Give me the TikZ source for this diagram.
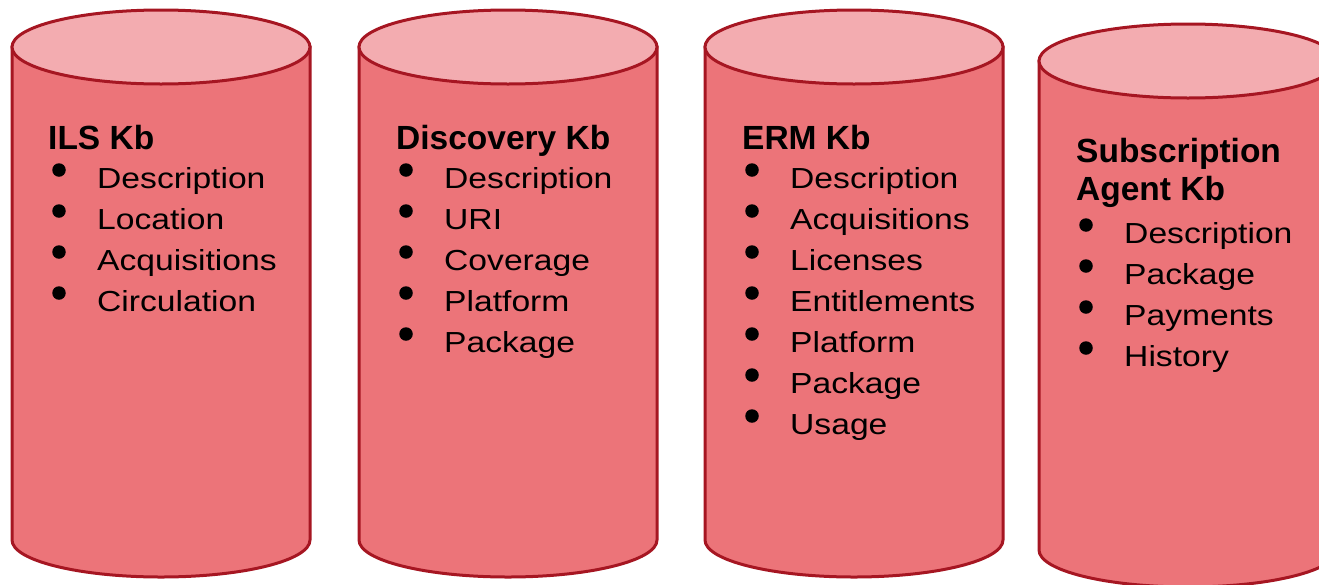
\documentclass[tikz,border=0pt]{standalone}
\usepackage{fontspec}
\setmainfont{Liberation Sans}
\newfontfamily\itemfont[FakeStretch=1.16]{Liberation Sans}

\definecolor{kbbody}{RGB}{236,116,121}
\definecolor{kbtop}{RGB}{243,172,176}
\definecolor{kbline}{RGB}{166,22,34}

\tikzset{
    kbcyl/.style={line width=3pt, draw=kbline, fill=kbbody},
    kbhead/.style={anchor=base west, inner sep=0pt, align=left,
        font=\fontsize{33.5}{38}\selectfont\bfseries},
    kbitem/.style={anchor=base west, inner sep=0pt,
        font=\fontsize{29}{34}\selectfont\itemfont},
    kbdot/.style={circle, fill=black, inner sep=0pt, minimum size=13.5pt}
}

\begin{document}
\begin{tikzpicture}[x=1pt, y=-1pt]
    \useasboundingbox (0,0) rectangle (1319,584);

    % ILS
    \coordinate (p) at (12,47);
    \draw[kbcyl, shift={(p)}] (0,0) -- (0,493)
        arc[start angle=180, end angle=0, x radius=149, y radius=37] -- (298,0) -- cycle;
    \draw[kbcyl, fill=kbtop, shift={(p)}] (149,0) ellipse[x radius=149, y radius=37];
    \node[kbhead] (ils) at (48,149) {ILS Kb};
    \foreach[count=\i] \l in {Description, Location, Acquisitions, Circulation} {
        \node[kbdot] (ils-dot-\i) at (59,{170+41*(\i-1)}) {};
        \node[kbitem] (ils-\i) at (97,{188+41*(\i-1)}) {\l};
    }

    % Discovery
    \coordinate (p) at (359,47);
    \draw[kbcyl, shift={(p)}] (0,0) -- (0,493)
        arc[start angle=180, end angle=0, x radius=149, y radius=37] -- (298,0) -- cycle;
    \draw[kbcyl, fill=kbtop, shift={(p)}] (149,0) ellipse[x radius=149, y radius=37];
    \node[kbhead] (disc) at (396,149) {Discovery Kb};
    \foreach[count=\i] \l in {Description, URI, Coverage, Platform, Package} {
        \node[kbdot] (disc-dot-\i) at (406,{170+41*(\i-1)}) {};
        \node[kbitem] (disc-\i) at (444,{188+41*(\i-1)}) {\l};
    }

    % ERM
    \coordinate (p) at (705,47);
    \draw[kbcyl, shift={(p)}] (0,0) -- (0,493)
        arc[start angle=180, end angle=0, x radius=149, y radius=37] -- (298,0) -- cycle;
    \draw[kbcyl, fill=kbtop, shift={(p)}] (149,0) ellipse[x radius=149, y radius=37];
    \node[kbhead] (erm) at (742,149) {ERM Kb};
    \foreach[count=\i] \l in {Description, Acquisitions, Licenses, Entitlements, Platform, Package, Usage} {
        \node[kbdot] (erm-dot-\i) at (752,{170+41*(\i-1)}) {};
        \node[kbitem] (erm-\i) at (790,{188+41*(\i-1)}) {\l};
    }

    % Subscription agent (runs off the right edge)
    \coordinate (p) at (1039,61);
    \draw[kbcyl, shift={(p)}] (0,0) -- (0,489)
        arc[start angle=180, end angle=0, x radius=149, y radius=37] -- (298,0) -- cycle;
    \draw[kbcyl, fill=kbtop, shift={(p)}] (149,0) ellipse[x radius=149, y radius=37];
    \node[kbhead] (agent) at (1076,200) {Subscription\\Agent Kb};
    \foreach[count=\i] \l in {Description, Package, Payments, History} {
        \node[kbdot] (agent-dot-\i) at (1086,{225+41*(\i-1)}) {};
        \node[kbitem] (agent-\i) at (1124,{243+41*(\i-1)}) {\l};
    }
\end{tikzpicture}
\end{document}
